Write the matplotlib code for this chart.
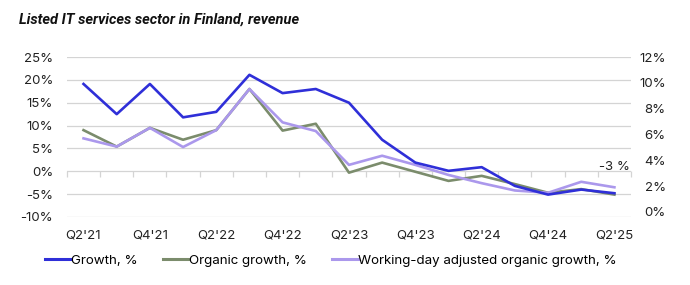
import numpy as np
import matplotlib
matplotlib.use('Agg')
import matplotlib.pyplot as plt

quarters = ["Q2'21", "Q3'21", "Q4'21", "Q1'22", "Q2'22", "Q3'22", "Q4'22", "Q1'23",
            "Q2'23", "Q3'23", "Q4'23", "Q1'24", "Q2'24", "Q3'24", "Q4'24", "Q1'25", "Q2'25"]
growth = [19.1, 12.5, 19.1, 11.8, 13.0, 21.1, 17.1, 18.0, 15.0, 6.9, 1.9, 0.1, 0.9, -3.2, -5.1, -4.0, -4.8]
organic = [9.0, 5.4, 9.5, 6.9, 9.0, 18.0, 8.9, 10.4, -0.3, 1.9, -0.1, -2.1, -1.0, -2.8, -4.7, -3.9, -5.1]
wd_organic = [7.2, 5.4, 9.5, 5.3, 9.0, 18.0, 10.7, 8.8, 1.4, 3.4, 1.4, -0.8, -2.6, -4.2, -4.7, -2.3, -3.5]
left_ticks = [-10, -5, 0, 5, 10, 15, 20, 25]
right_ticks = [0, 2, 4, 6, 8, 10, 12]
last_label = "-3 %"

plt.rcParams['font.family'] = ['Inter', 'DejaVu Sans']

fig = plt.figure(figsize=(6.9, 2.85), dpi=100)
ax = fig.add_axes([0.097, 0.2386, 0.8175, 0.5614])
x = np.arange(len(quarters))

ax.plot(x, growth, color='#2f2fd8', lw=1.9, label='Growth, %', zorder=4)
ax.plot(x, organic, color='#7b8c6c', lw=1.9, label='Organic growth, %', zorder=3)
ax.plot(x, wd_organic, color='#ab98ec', lw=1.9, label='Working-day adjusted organic growth, %', zorder=3)

ax.set_xlim(-0.5, len(quarters) - 0.5)
ax.set_ylim(left_ticks[0], left_ticks[-1])
ax.set_yticks(left_ticks)
ax.set_yticklabels([f'{v}%' for v in left_ticks])
ax.grid(axis='y', color='#d4d4d4', lw=0.9)
ax.set_axisbelow(True)
for s in ax.spines.values():
    s.set_visible(False)
ax.tick_params(axis='y', length=0, pad=10, labelsize=9.5, labelcolor='#222222')
ax.set_xticks(x[::2])
ax.set_xticklabels(quarters[::2])
ax.tick_params(axis='x', length=0, pad=9, labelsize=9.5, labelcolor='#222222')

# category boundary ticks on the zero line
zero_pos = (0 - left_ticks[0]) / (left_ticks[-1] - left_ticks[0])
sec = ax.secondary_xaxis(zero_pos)
sec.set_xticks(np.arange(len(quarters) + 1) - 0.5)
sec.tick_params(axis='x', length=4, width=0.9, color='#d4d4d4', labelbottom=False)
sec.spines['bottom'].set_visible(False)

ax2 = ax.twinx()
ax2.set_ylim(-0.4, 12.0)
ax2.set_yticks(right_ticks)
ax2.set_yticklabels([f'{v}%' for v in right_ticks], ha='right')
ax2.tick_params(axis='y', length=0, pad=25, labelsize=9.5, labelcolor='#222222')
for s in ax2.spines.values():
    s.set_visible(False)

ax.annotate(last_label, (x[-1], wd_organic[-1]), xytext=(0, 10), textcoords='offset points',
            ha='center', va='bottom', fontsize=9.5, color='#222222')

fig.text(0.027, 0.93, 'Listed IT services sector in Finland, revenue', fontsize=10.5,
         fontweight='bold', style='italic', va='center', ha='left', color='#111111',
         family=['Roboto', 'DejaVu Sans'])

leg = fig.legend(loc='center', bbox_to_anchor=(0.48, 0.085), ncol=3, frameon=False, fontsize=9.6,
                 handlelength=1.9, handletextpad=0.05, columnspacing=1.9)
for h in leg.get_lines():
    h.set_linewidth(2.2)

fig.savefig('out.png', dpi=100)
